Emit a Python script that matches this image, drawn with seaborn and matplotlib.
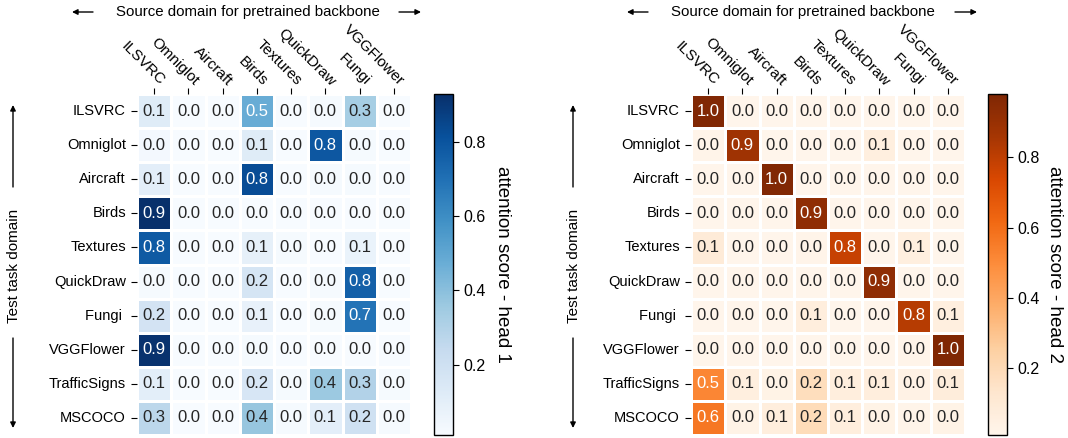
import numpy as np
import pandas as pd
import matplotlib
matplotlib.use("Agg")
import matplotlib.pyplot as plt
from matplotlib.patches import FancyArrowPatch
from matplotlib.transforms import ScaledTranslation
import seaborn as sns

sources = ["ILSVRC", "Omniglot", "Aircraft", "Birds", "Textures", "QuickDraw", "Fungi", "VGGFlower"]
targets = ["ILSVRC", "Omniglot", "Aircraft", "Birds", "Textures", "QuickDraw", "Fungi ", "VGGFlower",
           "TrafficSigns", "MSCOCO"]

head1 = [
    [0.12, 0.01, 0.01, 0.48, 0.01, 0.02, 0.33, 0.01],
    [0.03, 0.01, 0.01, 0.12, 0.01, 0.79, 0.02, 0.01],
    [0.10, 0.01, 0.01, 0.83, 0.01, 0.02, 0.02, 0.01],
    [0.93, 0.01, 0.01, 0.01, 0.01, 0.01, 0.01, 0.01],
    [0.78, 0.01, 0.01, 0.09, 0.02, 0.01, 0.07, 0.01],
    [0.02, 0.01, 0.01, 0.17, 0.01, 0.02, 0.76, 0.01],
    [0.18, 0.01, 0.01, 0.08, 0.01, 0.02, 0.69, 0.01],
    [0.92, 0.01, 0.01, 0.02, 0.01, 0.01, 0.01, 0.01],
    [0.10, 0.01, 0.01, 0.16, 0.02, 0.36, 0.30, 0.02],
    [0.27, 0.01, 0.01, 0.37, 0.02, 0.10, 0.20, 0.02],
]

head2 = [
    [0.97, 0.01, 0.01, 0.01, 0.01, 0.01, 0.01, 0.01],
    [0.02, 0.88, 0.01, 0.01, 0.01, 0.06, 0.01, 0.01],
    [0.01, 0.01, 0.97, 0.01, 0.01, 0.01, 0.01, 0.01],
    [0.01, 0.01, 0.01, 0.93, 0.01, 0.01, 0.01, 0.01],
    [0.09, 0.01, 0.01, 0.02, 0.78, 0.01, 0.06, 0.01],
    [0.01, 0.01, 0.01, 0.01, 0.01, 0.93, 0.01, 0.01],
    [0.01, 0.01, 0.01, 0.07, 0.01, 0.01, 0.82, 0.06],
    [0.01, 0.01, 0.01, 0.01, 0.01, 0.01, 0.02, 0.98],
    [0.52, 0.06, 0.03, 0.18, 0.07, 0.07, 0.04, 0.08],
    [0.57, 0.03, 0.07, 0.19, 0.07, 0.03, 0.02, 0.03],
]

plt.rcParams["font.family"] = ["Liberation Sans", "DejaVu Sans"]

W, H = 1068, 438
fig = plt.figure(figsize=(W / 100, H / 100), dpi=100)

Y0, Y1 = 94, 435  # top / bottom of heatmap in pixels (from top)


def panel(data, cmap, hm_x0, hm_x1, cb_x0, cb_w, label, label_cx, title_cx, arrows_x, vert_x):
    df = pd.DataFrame(data, index=targets, columns=sources)
    ax = fig.add_axes([hm_x0 / W, (H - Y1) / H, (hm_x1 - hm_x0) / W, (Y1 - Y0) / H])
    cax = fig.add_axes([cb_x0 / W, (H - Y1) / H, cb_w / W, (Y1 - Y0) / H])
    sns.heatmap(df, ax=ax, cbar_ax=cax, cmap=cmap, annot=True, fmt=".1f",
                linewidths=2, linecolor="white", annot_kws={"size": 12})
    ax.xaxis.tick_top()
    ax.tick_params(axis="x", pad=3, length=4)
    ax.tick_params(axis="y", pad=4, length=4)
    ax.set_xticklabels(sources, rotation=-45, ha="right", va="baseline",
                       rotation_mode="anchor", fontsize=11)
    ax.set_yticklabels(targets, rotation=0, fontsize=10.5)
    shift = ScaledTranslation(5 / 100, -2 / 100, fig.dpi_scale_trans)
    for lbl in ax.get_xticklabels():
        lbl.set_transform(lbl.get_transform() + shift)
    ax.set_xlabel("")
    ax.set_ylabel("")
    cb = ax.collections[0].colorbar
    cb.outline.set_linewidth(1)
    cb.outline.set_edgecolor("black")
    cax.tick_params(labelsize=11.5, length=4)
    cax.set_ylabel(label, rotation=270, fontsize=13.5, va="center", ha="center")
    cax.yaxis.set_label_coords((label_cx - cb_x0) / cb_w, 0.5)

    fig.text(title_cx / W, 1 - 12 / H, "Source domain for pretrained backbone",
             ha="center", va="center", fontsize=10.8)
    ap = dict(arrowstyle="-|>", lw=1, color="black", mutation_scale=8,
              shrinkA=0, shrinkB=0, transform=None)
    a0, a1, a2, a3 = arrows_x
    fig.add_artist(FancyArrowPatch((a1, H - 12), (a0, H - 12), **ap))
    fig.add_artist(FancyArrowPatch((a2, H - 12), (a3, H - 12), **ap))
    fig.text((vert_x + 1) / W, 1 - 266 / H, "Test task domain", rotation=90,
             ha="center", va="center", fontsize=11)
    fig.add_artist(FancyArrowPatch((vert_x, H - 187), (vert_x, H - 105), **ap))
    fig.add_artist(FancyArrowPatch((vert_x, H - 338), (vert_x, H - 428), **ap))


panel(head1, "Blues", 137, 411, 434, 19, "attention score - head 1", 502, 248,
      (72, 93, 399, 421), 13)
panel(head2, "Oranges", 691, 965, 988, 19, "attention score - head 2", 1055, 803,
      (627, 648, 955, 977), 573)

fig.savefig("out.png", dpi=100)
